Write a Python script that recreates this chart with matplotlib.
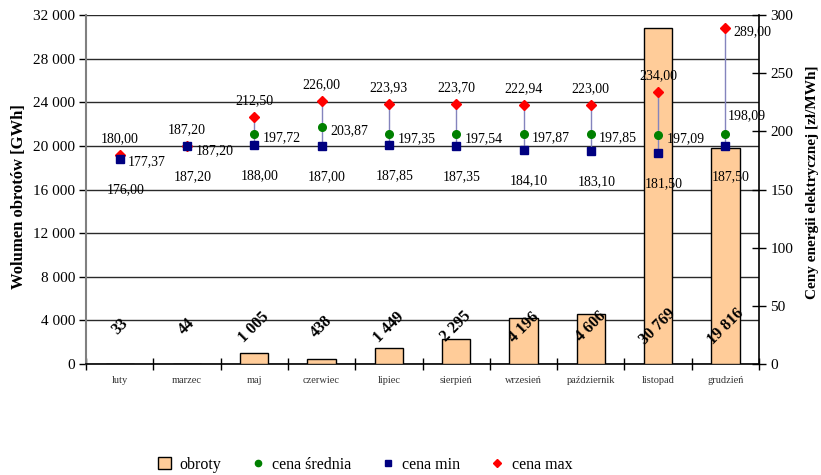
import numpy as np
import matplotlib
matplotlib.use('Agg')
import matplotlib.pyplot as plt
from matplotlib.ticker import FuncFormatter, MultipleLocator, FixedLocator
from matplotlib.patches import Patch
from matplotlib.lines import Line2D

plt.rcParams['font.family'] = ['Liberation Serif', 'DejaVu Serif']

months = ['luty', 'marzec', 'maj', 'czerwiec', 'lipiec', 'sierpień',
          'wrzesień', 'październik', 'listopad', 'grudzień']
obroty = [33, 44, 1005, 438, 1449, 2295, 4196, 4606, 30769, 19816]
cena_max = [180.00, 187.20, 212.50, 226.00, 223.93, 223.70, 222.94, 223.00, 234.00, 289.00]
cena_sr = [177.37, 187.20, 197.72, 203.87, 197.35, 197.54, 197.87, 197.85, 197.09, 198.09]
cena_min = [176.00, 187.20, 188.00, 187.00, 187.85, 187.35, 184.10, 183.10, 181.50, 187.50]

BAR_C = '#FFCC99'
MAX_C = '#FF0000'
AVG_C = '#008000'
MIN_C = '#000080'
HL_C = '#8484bd'


def pl(v, dec=0):
    s = f"{v:,.{dec}f}"
    return s.replace(',', ' ').replace('.', ',')


fig = plt.figure(figsize=(8.21, 4.75), dpi=100)
ax = fig.add_axes([0.1048, 0.2337, 0.8198, 0.7347])
x = np.arange(len(months))

# volume bars on the left axis
ax.bar(x, obroty, width=0.42, color=BAR_C, edgecolor='black', linewidth=1, zorder=3)
ax.set_xlim(-0.5, len(months) - 0.5)
ax.set_ylim(0, 32000)
ax.yaxis.set_major_locator(MultipleLocator(4000))
ax.yaxis.set_major_formatter(FuncFormatter(lambda v, p: pl(v)))
ax.yaxis.grid(True, color='#2a2a2a', linewidth=1, zorder=1)
ax.set_axisbelow(True)
for i, v in enumerate(obroty):
    ax.text(i, 3400, pl(v), rotation=45, ha='center', va='center',
            fontsize=11.5, fontweight='bold', zorder=5)

ax.set_xticks(x)
ax.set_xticklabels(months, fontsize=7.5, color='#333333')
ax.tick_params(axis='x', length=0, pad=9)
ax.xaxis.set_minor_locator(FixedLocator(np.arange(-0.5, len(months), 1.0)))
ax.tick_params(axis='x', which='minor', direction='inout', length=8, width=1)
ax.tick_params(axis='y', direction='out', length=5, width=1, labelsize=11, pad=3)
for s in ['top', 'right']:
    ax.spines[s].set_visible(False)
ax.spines['left'].set_color('#808080')
ax.spines['left'].set_linewidth(1.5)
ax.spines['bottom'].set_linewidth(1.2)
ax.set_ylabel('Wolumen obrotów [GWh]', fontsize=12, fontweight='bold')
ax.yaxis.set_label_coords(-0.088, 0.48)

# prices on the right axis
ax2 = ax.twinx()
ax2.set_ylim(0, 300)
ax2.yaxis.set_major_locator(MultipleLocator(50))
ax2.tick_params(axis='y', direction='inout', length=10, width=1, labelsize=11, pad=3)
for s in ['top', 'left', 'bottom']:
    ax2.spines[s].set_visible(False)
ax2.spines['right'].set_linewidth(1.2)
ax2.set_ylabel('Ceny energii elektrycznej [zł/MWh]', fontsize=11, fontweight='bold',
               rotation=90)
ax2.yaxis.set_label_coords(1.069, 0.52)

ax2.vlines(x, cena_min, cena_max, color=HL_C, linewidth=1, zorder=2)
ax2.plot(x, cena_sr, 'o', color=AVG_C, ms=5.5, zorder=3)
ax2.plot(x, cena_max, 'D', color=MAX_C, ms=5, zorder=4)
ax2.plot(x, cena_min, 's', color=MIN_C, ms=5.5, zorder=5)

last = len(months) - 1
for i in x:
    if i == last:
        ax2.annotate(pl(cena_max[i], 2), (i, cena_max[i]), xytext=(6, -3),
                     textcoords='offset points', ha='left', va='center', fontsize=10)
        ax2.annotate(pl(cena_sr[i], 2), (i, cena_sr[i]), xytext=(2, 8),
                     textcoords='offset points', ha='left', va='bottom', fontsize=10)
    else:
        ax2.annotate(pl(cena_max[i], 2), (i, cena_max[i]), xytext=(0, 7),
                     textcoords='offset points', ha='center', va='bottom', fontsize=10)
        ax2.annotate(pl(cena_sr[i], 2), (i, cena_sr[i]), xytext=(6, -3),
                     textcoords='offset points', ha='left', va='center', fontsize=10)
    ax2.annotate(pl(cena_min[i], 2), (i, cena_min[i]), xytext=(4, -22),
                 textcoords='offset points', ha='center', va='center', fontsize=10)

handles = [
    Patch(facecolor=BAR_C, edgecolor='black', linewidth=1),
    Line2D([], [], marker='o', color=AVG_C, linestyle='None', ms=4.5),
    Line2D([], [], marker='s', color=MIN_C, linestyle='None', ms=4.5),
    Line2D([], [], marker='D', color=MAX_C, linestyle='None', ms=4),
]
fig.legend(handles, ['obroty', 'cena średnia', 'cena min', 'cena max'],
           loc='center', bbox_to_anchor=(0.445, 0.022), ncol=4, frameon=False,
           fontsize=11.5, columnspacing=1.9, handlelength=0.8, handletextpad=0.5)

fig.savefig('out.png', dpi=100)
